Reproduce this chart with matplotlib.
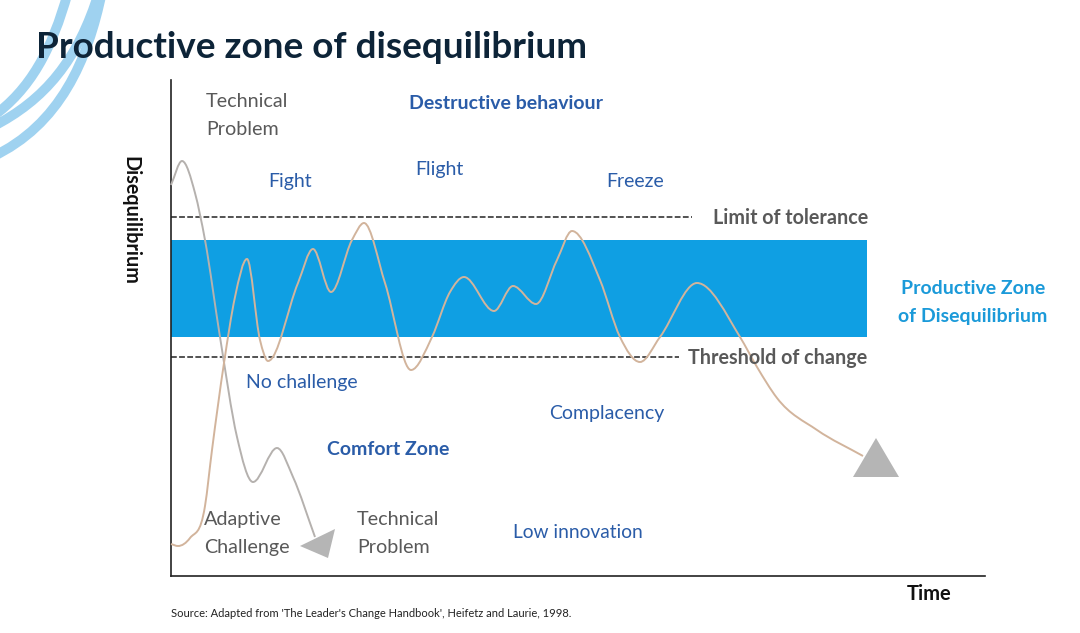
import matplotlib
matplotlib.use('Agg')
import matplotlib.pyplot as plt
from matplotlib.path import Path
from matplotlib.patches import PathPatch, Polygon

plt.rcParams['font.family'] = ['Lato', 'DejaVu Sans']

W, H = 1080, 633
# axes box in picture pixels
LEFT, RIGHT, TOP, BOTTOM = 171, 985, 80, 576

# curves (time, disequilibrium), origin at the axes corner
tech_t = [0, 11, 24, 34, 49, 66, 82, 106, 122, 144]
tech_d = [391, 415, 383, 336, 239, 139, 94, 128, 99, 39]

adapt_t = [0, 7, 19, 34, 41, 53, 64, 76, 89, 97, 127, 142, 160, 181, 193, 214, 240, 261,
           279, 293, 323, 342, 365, 386, 401, 429, 449, 469, 489, 526, 569, 586, 606, 646, 692]
adapt_d = [32, 30, 38, 70, 126, 213, 279, 317, 236, 215, 293, 327, 284, 336, 353, 293, 206, 239,
           284, 299, 265, 290, 272, 316, 345, 296, 239, 214, 239, 293, 239, 209, 178, 146, 120]

tolerance_d = 359
threshold_d = 219
zone_low, zone_high = 239, 336
zone_end = 696
tolerance_end = 521
threshold_end = 508

# end markers, picture pixels
tri_left = [(300, 546), (335, 529), (328, 558)]
tri_right = [(876, 438), (853, 477), (899, 477)]

# background rings as bezier control points, picture pixels
rings = [
    [(68, -8), (52, 50), (30, 90), (-8, 117)],
    [(99, -8), (78, 60), (45, 100), (-8, 127)],
    [(102, -8), (88, 60), (60, 125), (-8, 157)],
]

DARK = '#0d2438'
GREY = '#595959'
BLUE = '#2a5ca8'
ZONE = '#0f9fe3'
ZONE_TEXT = '#1b9ad9'
TAN = '#d2b49c'
CURVE_GREY = '#b5b1ae'


def smooth_path(xs, ys):
    # hermite segments, flat at peaks and troughs, plain weighted slope on the flanks
    n = len(xs)
    h = [xs[i + 1] - xs[i] for i in range(n - 1)]
    d = [(ys[i + 1] - ys[i]) / h[i] for i in range(n - 1)]
    m = [d[0]] + [0.0] * (n - 2) + [d[-1]]
    for i in range(1, n - 1):
        if d[i - 1] * d[i] > 0:
            s = (d[i - 1] * h[i] + d[i] * h[i - 1]) / (h[i - 1] + h[i])
            limit = 3 * min(abs(d[i - 1]), abs(d[i]))
            m[i] = max(-limit, min(limit, s))
    verts = [(xs[0], ys[0])]
    codes = [Path.MOVETO]
    for i in range(n - 1):
        verts.append((xs[i] + h[i] / 3, ys[i] + m[i] * h[i] / 3))
        verts.append((xs[i + 1] - h[i] / 3, ys[i + 1] - m[i + 1] * h[i] / 3))
        verts.append((xs[i + 1], ys[i + 1]))
        codes += [Path.CURVE4] * 3
    return Path(verts, codes)


fig = plt.figure(figsize=(W / 100, H / 100), dpi=100, facecolor='white')

# full figure layer for the decoration, title and outside labels
bg = fig.add_axes([0, 0, 1, 1])
bg.set_xlim(0, W)
bg.set_ylim(H, 0)
bg.axis('off')
for ring in rings:
    ring_path = Path(ring, [Path.MOVETO, Path.CURVE4, Path.CURVE4, Path.CURVE4])
    bg.add_patch(PathPatch(ring_path, fc='none', ec='#9fd2f0', lw=7))

ax = fig.add_axes([LEFT / W, 1 - BOTTOM / H, (RIGHT - LEFT) / W, (BOTTOM - TOP) / H])
ax.set_xlim(0, RIGHT - LEFT)
ax.set_ylim(0, BOTTOM - TOP)
ax.patch.set_alpha(0)
ax.set_xticks([])
ax.set_yticks([])
ax.spines['top'].set_visible(False)
ax.spines['right'].set_visible(False)
ax.spines['left'].set_linewidth(1.2)
ax.spines['bottom'].set_linewidth(1.2)
ax.spines['left'].set_color('#222222')
ax.spines['bottom'].set_color('#222222')

ax.axhspan(zone_low, zone_high, xmin=0, xmax=zone_end / (RIGHT - LEFT), color=ZONE, lw=0, zorder=1)
ax.plot([0, tolerance_end], [tolerance_d, tolerance_d], color='#444444', lw=1.3, ls=(0, (3.2, 1.3)), zorder=2)
ax.plot([0, threshold_end], [threshold_d, threshold_d], color='#444444', lw=1.3, ls=(0, (3.2, 1.3)), zorder=2)

ax.add_patch(PathPatch(smooth_path(tech_t, tech_d), fc='none', ec=CURVE_GREY, lw=1.4, zorder=3, clip_on=False))
ax.add_patch(PathPatch(smooth_path(adapt_t, adapt_d), fc='none', ec=TAN, lw=1.4, zorder=3, clip_on=False))

bg.add_patch(Polygon(tri_left, closed=True, fc='#b5b5b5', ec='none', zorder=5))
bg.add_patch(Polygon(tri_right, closed=True, fc='#b5b5b5', ec='none', zorder=5))

fig.text(36 / W, 1 - 58 / H, 'Productive zone of disequilibrium', fontsize=26.6, fontweight='bold',
         color=DARK, va='baseline', ha='left')


def label(x, y, s, color=GREY, size=14, weight='normal', ha='left'):
    # y is the baseline
    fig.text(x / W, 1 - y / H, s, color=color, fontsize=size, fontweight=weight, ha=ha, va='baseline', zorder=6)


label(206, 107, 'Technical', size=14.2)
label(206, 135, 'Problem', size=14.2)
label(409, 109, 'Destructive behaviour', BLUE, 14, 'bold')
label(268, 187, 'Fight', BLUE)
label(415, 175, 'Flight', BLUE)
label(606, 187, 'Freeze', BLUE)
label(713, 224, 'Limit of tolerance', GREY, 14.2, 'bold')
label(688, 364, 'Threshold of change', GREY, 14.2, 'bold')
label(973, 294, 'Productive Zone', ZONE_TEXT, 14, 'bold', 'center')
label(973, 322, 'of Disequilibrium', ZONE_TEXT, 14, 'bold', 'center')
label(246, 388, 'No challenge', BLUE)
label(549, 419, 'Complacency', BLUE)
label(327, 455, 'Comfort Zone', BLUE, 14, 'bold')
label(204, 525, 'Adaptive', size=14.2)
label(204, 553, 'Challenge', size=14.2)
label(357, 525, 'Technical', size=14.2)
label(357, 553, 'Problem', size=14.2)
label(513, 538, 'Low innovation', BLUE, 13.8)
label(907, 600, 'Time', '#111111', 14.5, 'bold')
label(171, 617, "Source: Adapted from 'The Leader's Change Handbook', Heifetz and Laurie, 1998.", '#222222', 8.05)

fig.text(130 / W, 1 - 220 / H, 'Disequilibrium', rotation=-90, color='#111111', fontsize=14.2, fontweight='bold',
         ha='center', va='center')

fig.savefig('out.png', dpi=100)
